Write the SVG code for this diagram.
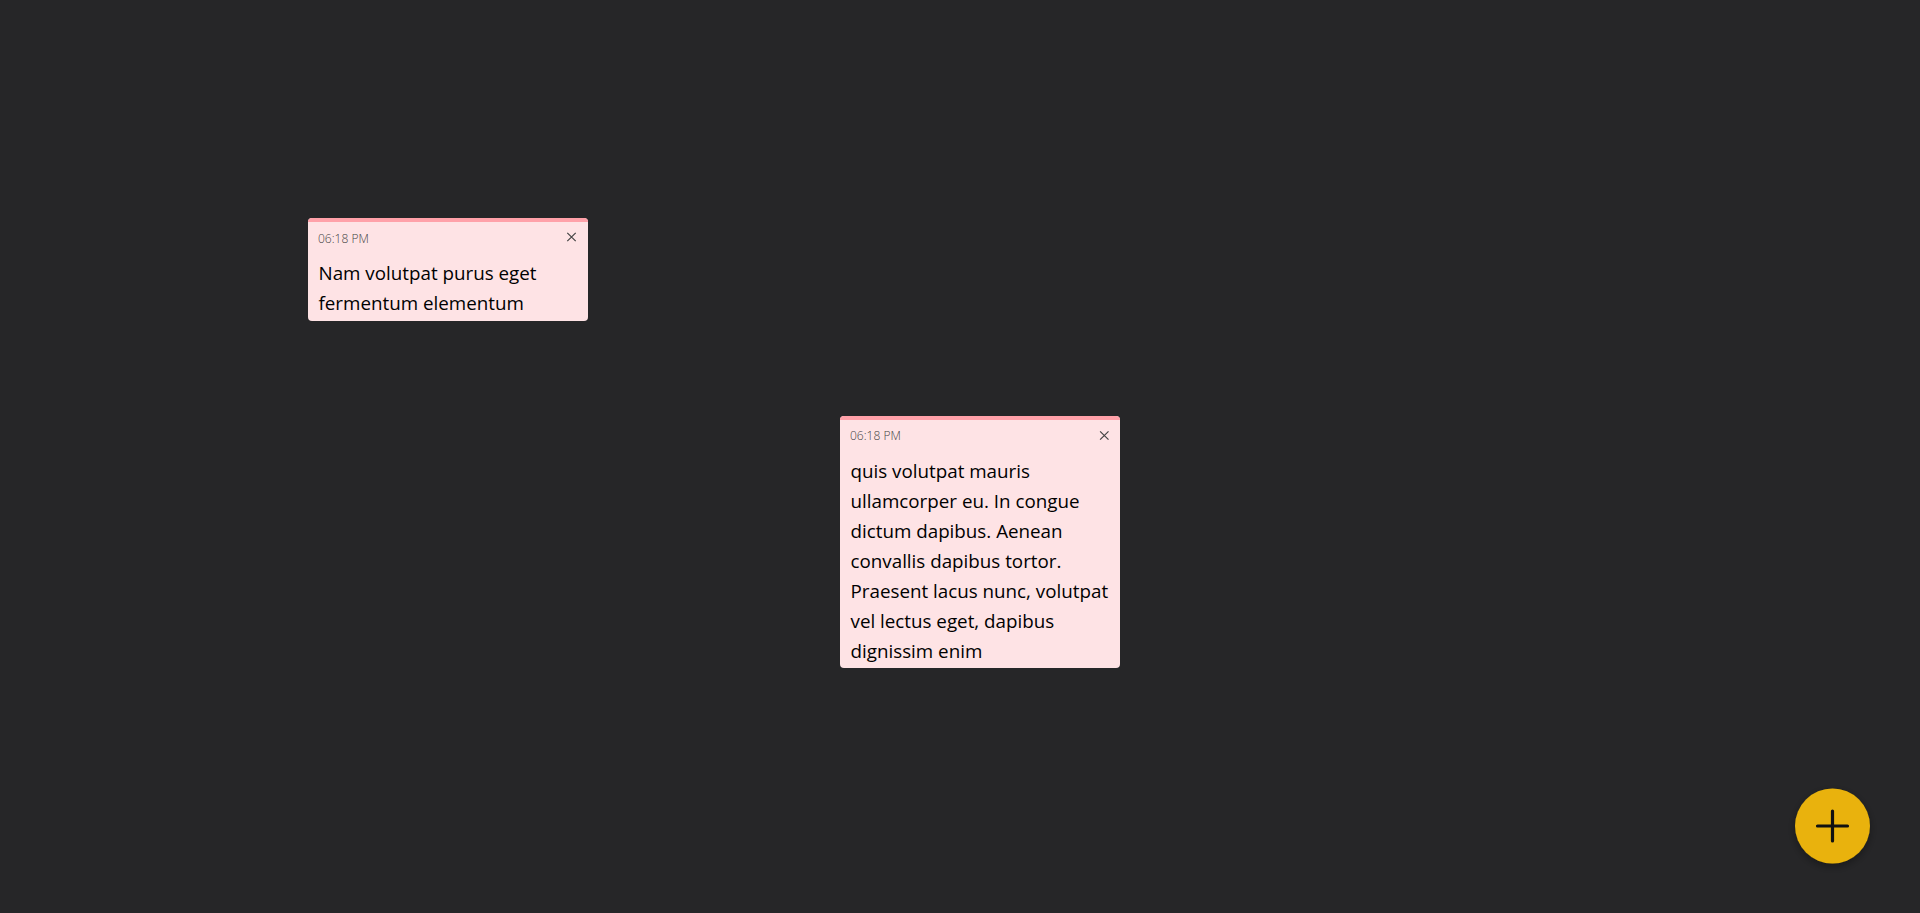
<svg xmlns="http://www.w3.org/2000/svg" width="1920" height="913" viewBox="0 0 1920 913">
  <defs>
    <style>
      .note { fill: #fee3e5; }
      .band { fill: #ffa1a9; }
      .time { font-family: "Open Sans", "Noto Sans", sans-serif; font-size: 12px; font-weight: 300; fill: #444444; }
      .body { font-family: "Open Sans", "Noto Sans", sans-serif; font-size: 18.8px; fill: #000000; }
      .close { stroke: #444444; stroke-width: 1.2; fill: none; }
    </style>
    <filter id="shadow" x="-30%" y="-30%" width="160%" height="160%">
      <feDropShadow dx="0" dy="3" stdDeviation="4" flood-color="#000000" flood-opacity="0.35"/>
    </filter>
  </defs>
  <rect width="1920" height="913" fill="#262628"/>

  <g id="note-1">
    <rect class="note" x="308" y="218" width="280" height="103" rx="4"/>
    <path class="band" d="M308,222 A4,4 0 0 1 312,218 H584 A4,4 0 0 1 588,222 Z"/>
    <text class="time" x="318" y="243">06:18 PM</text>
    <path class="close" d="M567.3,232.8 L575.7,241.2 M575.7,232.8 L567.3,241.2"/>
    <text class="body" x="318.5" y="280">Nam volutpat purus eget</text>
    <text class="body" x="318.5" y="310">fermentum elementum</text>
  </g>

  <g id="note-2">
    <rect class="note" x="840" y="416" width="280" height="252" rx="4"/>
    <path class="band" d="M840,420 A4,4 0 0 1 844,416 H1116 A4,4 0 0 1 1120,420 Z"/>
    <text class="time" x="850" y="440">06:18 PM</text>
    <path class="close" d="M1100.1,431.3 L1108.5,439.7 M1108.5,431.3 L1100.1,439.7"/>
    <text class="body" x="850.5" y="478">quis volutpat mauris</text>
    <text class="body" x="850.5" y="508">ullamcorper eu. In congue</text>
    <text class="body" x="850.5" y="538">dictum dapibus. Aenean</text>
    <text class="body" x="850.5" y="568">convallis dapibus tortor.</text>
    <text class="body" x="850.5" y="598">Praesent lacus nunc, volutpat</text>
    <text class="body" x="850.5" y="628">vel lectus eget, dapibus</text>
    <text class="body" x="850.5" y="658">dignissim enim</text>
  </g>

  <g id="add-button">
    <circle cx="1832.5" cy="826" r="37.5" fill="#e9b209" filter="url(#shadow)"/>
    <path d="M1817.5,826 H1847.5 M1832.5,811 V841" stroke="#111111" stroke-width="3.2" stroke-linecap="round" fill="none"/>
  </g>

  <g id="connectors"/>
</svg>
